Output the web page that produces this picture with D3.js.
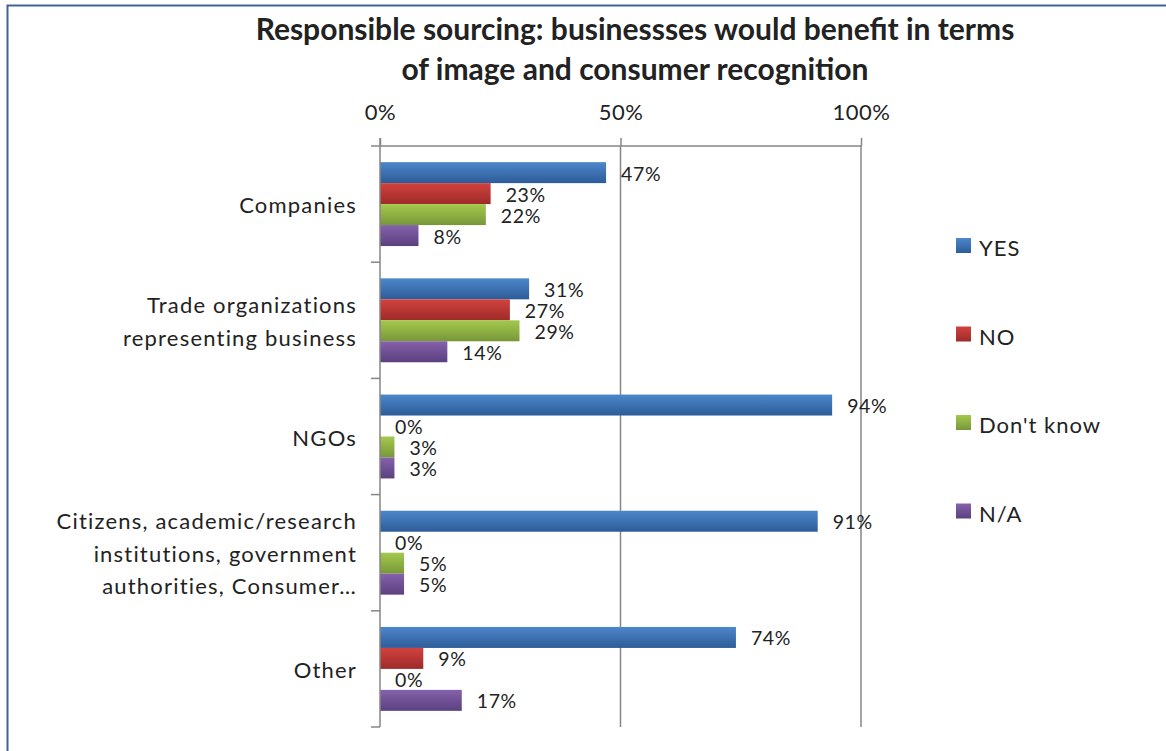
<!DOCTYPE html>
<html>
<head>
<meta charset="utf-8">
<script src="https://cdn.jsdelivr.net/npm/d3@7"></script>
<style>
  html, body { margin: 0; padding: 0; background: #fff; }
  svg { display: block; }
  text { font-family: Lato, "Open Sans", sans-serif; fill: #222; }
</style>
</head>
<body>
<svg id="chart" width="1166" height="751"></svg>
<script>
// ---- data ----
const titleLines = ["Responsible sourcing: businessses would benefit in terms", "of image and consumer recognition"];
const categories = ["Companies", "Trade organizations representing business", "NGOs", "Citizens, academic/research institutions, government authorities, Consumer…", "Other"];
const categoryLines = [["Companies"], ["Trade organizations", "representing business"], ["NGOs"], ["Citizens, academic/research", "institutions, government", "authorities, Consumer…"], ["Other"]];
const seriesNames = ["YES", "NO", "Don't know", "N/A"];
const yesValues = [47, 31, 94, 91, 74];
const noValues = [23, 27, 0, 0, 9];
const dontKnowValues = [22, 29, 3, 5, 0];
const naValues = [8, 14, 3, 5, 17];
const tickValues = [0, 50, 100];
const seriesColors = [["#4d87cb", "#2d5c98"], ["#d2423f", "#9e2b29"], ["#a4c94d", "#779738"], ["#8661ac", "#5b417e"]];

(function () {
const seriesValues = [yesValues, noValues, dontKnowValues, naValues];
const rows = categories.map((c, i) => ({cat: c, lines: categoryLines[i], vals: seriesNames.map((s, j) => ({s, j, v: seriesValues[j][i]}))}));

const svg = d3.select("#chart");
const W = 1166, H = 751;
const defs = svg.append("defs");
seriesColors.forEach((c, j) => {
  const g = defs.append("linearGradient").attr("id", "g" + j).attr("x1", 0).attr("y1", 0).attr("x2", 0).attr("y2", 1);
  g.append("stop").attr("offset", "0%").attr("stop-color", c[0]);
  g.append("stop").attr("offset", "100%").attr("stop-color", c[1]);
});

// frame
svg.append("rect").attr("x", 0).attr("y", 0).attr("width", W).attr("height", H).attr("fill", "#fff");
svg.append("rect").attr("x", 7.5).attr("y", 5.5).attr("width", W + 20).attr("height", H + 20)
  .attr("fill", "none").attr("stroke", "#3f6597").attr("stroke-width", 2);

const pLeft = 380, pRight = 861, pTop = 146, pBottom = 727;
const x = d3.scaleLinear().domain([0, 100]).range([pLeft, pRight]);
const y = d3.scaleBand().domain(categories).range([pTop, pBottom]).paddingInner(0).paddingOuter(0);
const y1 = d3.scaleBand().domain(seriesNames).range([0, y.bandwidth()]).paddingInner(0).paddingOuter(0.77);

const gridColor = "#868686";
// gridlines
svg.append("g").selectAll("line").data(tickValues.filter(t => t > 0)).join("line")
  .attr("x1", d => x(d)).attr("x2", d => x(d)).attr("y1", pTop).attr("y2", pBottom)
  .attr("stroke", gridColor).attr("stroke-width", 1.5);

// top axis
const xAxis = d3.axisTop(x).tickValues(tickValues).tickFormat(d => d + "%").tickSize(8).tickPadding(10);
const gx = svg.append("g").attr("transform", `translate(0,${pTop})`).call(xAxis);
gx.select(".domain").attr("stroke", gridColor).attr("stroke-width", 1.5).attr("d", `M${pLeft},0H${pRight}`);
gx.selectAll(".tick line").attr("stroke", gridColor).attr("stroke-width", 1.5);
gx.selectAll(".tick text").attr("font-size", 22).attr("font-family", "Lato, sans-serif").attr("fill", "#222")
  .attr("letter-spacing", 0.5).attr("dy", 0).attr("y", -26);

// bars
const groups = svg.append("g").selectAll("g").data(rows).join("g")
  .attr("transform", d => `translate(0,${y(d.cat)})`);
groups.selectAll("rect").data(d => d.vals).join("rect")
  .attr("x", x(0)).attr("y", d => y1(d.s)).attr("width", d => x(d.v) - x(0)).attr("height", y1.bandwidth())
  .attr("fill", d => `url(#g${d.j})`);
groups.selectAll("text").data(d => d.vals).join("text")
  .attr("x", d => x(d.v) + 15).attr("y", d => y1(d.s) + y1.bandwidth() / 2 + 8)
  .attr("font-size", 19.5).attr("letter-spacing", 0.6).text(d => d.v + "%");

// left axis
const boundaries = categories.map(c => y(c)).concat([pBottom]);
svg.append("line").attr("x1", pLeft).attr("x2", pLeft).attr("y1", pTop - 8).attr("y2", pBottom).attr("stroke", gridColor).attr("stroke-width", 1.5);
svg.append("g").selectAll("line").data(boundaries).join("line")
  .attr("x1", pLeft - 9).attr("x2", pLeft).attr("y1", d => d).attr("y2", d => d)
  .attr("stroke", gridColor).attr("stroke-width", 1.5);

// category labels
const lh = 32.5;
svg.append("g").selectAll("text").data(rows).join("text")
  .attr("text-anchor", "end").attr("font-size", 22).attr("letter-spacing", 1.2)
  .each(function(d) {
    const n = d.lines.length;
    const cy = y(d.cat) + y.bandwidth() / 2;
    d3.select(this).selectAll("tspan").data(d.lines).join("tspan")
      .attr("x", 357).attr("y", (l, i) => cy + 9 + (i - (n - 1) / 2) * lh).text(l => l);
  });

// title
svg.append("g").selectAll("text").data(titleLines).join("text")
  .attr("x", 635).attr("y", (d, i) => 40 + i * 40).attr("text-anchor", "middle")
  .attr("font-size", 30).attr("font-weight", "bold").attr("fill", "#1a1a1a").text(d => d);

// legend
const leg = svg.append("g").selectAll("g").data(seriesNames).join("g")
  .attr("transform", (d, i) => `translate(956,${238 + i * 88.5})`);
leg.append("rect").attr("width", 15).attr("height", 15).attr("fill", (d, i) => `url(#g${i})`);
leg.append("text").attr("x", 23).attr("y", 18).attr("font-size", 22).attr("letter-spacing", 1).text(d => d);
})();
</script>
</body>
</html>
